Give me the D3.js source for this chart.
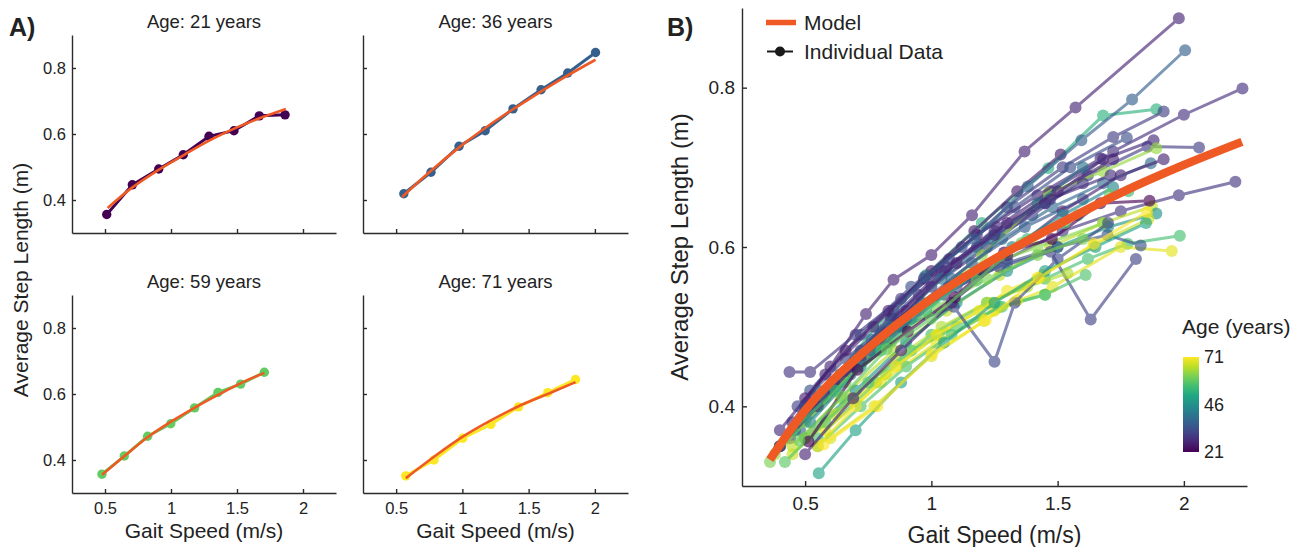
<!DOCTYPE html>
<html>
<head>
<meta charset="utf-8">
<script src="https://cdn.jsdelivr.net/npm/d3@7"></script>
<style>
  body { margin: 0; background: #fff; }
  svg { display: block; }
  text { font-family: "Liberation Sans", Arial, sans-serif; fill: #222; }
</style>
</head>
<body>
<svg id="chart" width="1307" height="547"></svg>
<script>
// ---- data ----
const ageMin = 21, ageMax = 71;
const xTicks = [0.5, 1, 1.5, 2];
const yTicks = [0.4, 0.6, 0.8];
const cbTicks = [21, 46, 71];

// panel A: four example participants
const panelAges = [21, 36, 59, 71];
const panelSpeeds = [
  [0.513, 0.707, 0.907, 1.093, 1.288, 1.477, 1.669, 1.864],
  [0.558, 0.763, 0.975, 1.172, 1.382, 1.594, 1.795, 2.005],
  [0.477, 0.646, 0.823, 0.998, 1.179, 1.356, 1.528, 1.707],
  [0.573, 0.786, 1.003, 1.215, 1.424, 1.644, 1.854]
];
const panelLengths = [
  [0.356, 0.446, 0.494, 0.537, 0.593, 0.610, 0.655, 0.658],
  [0.419, 0.484, 0.563, 0.610, 0.676, 0.734, 0.785, 0.847],
  [0.357, 0.412, 0.472, 0.510, 0.558, 0.605, 0.630, 0.666],
  [0.352, 0.400, 0.466, 0.508, 0.561, 0.604, 0.644]
];
const fitSpeeds = [
  [0.52, 0.7, 0.9, 1.1, 1.3, 1.5, 1.7, 1.87],
  [0.545, 0.75, 1.0, 1.25, 1.5, 1.75, 2.005],
  [0.477, 0.65, 0.82, 1.0, 1.18, 1.36, 1.53, 1.707],
  [0.573, 0.786, 1.0, 1.215, 1.424, 1.644, 1.854]
];
const fitLengths = [
  [0.376, 0.436, 0.49, 0.537, 0.582, 0.62, 0.652, 0.676],
  [0.409, 0.484, 0.567, 0.64, 0.705, 0.767, 0.825],
  [0.355, 0.413, 0.468, 0.516, 0.559, 0.598, 0.633, 0.664],
  [0.345, 0.41, 0.47, 0.52, 0.563, 0.6, 0.636]
];

// panel B: population model
const modelSpeeds = [0.36, 0.5, 0.75, 1.0, 1.25, 1.5, 1.75, 2.0, 2.23];
const modelLengths = [0.333, 0.395, 0.473, 0.535, 0.585, 0.628, 0.668, 0.703, 0.732];

// panel B: other participants (the four above are added too)
const subjAges = [26, 28, 53, 30, 30, 27, 63, 33, 38, 29, 66, 47, 56, 69, 31, 34, 67, 62,
  57, 65, 28, 27, 25, 58, 70, 68, 40, 32, 29, 35, 50, 61, 26, 26, 44, 55];
const subjSpeeds = [
  [0.45, 0.6, 0.741, 0.85, 1.0, 1.161, 1.369, 1.571, 1.98],
  [0.55, 0.78, 1.0, 1.22, 1.45, 1.72, 2.0, 2.232],
  [0.4, 0.58, 0.78, 0.98, 1.2, 1.463, 1.68, 1.891],
  [0.46, 0.65, 0.85, 1.07, 1.3, 1.52, 1.72, 1.92],
  [0.5, 0.72, 0.95, 1.18, 1.4, 1.62, 1.856, 2.06],
  [0.44, 0.63, 0.85, 1.05, 1.26, 1.47, 1.68, 1.88],
  [0.38, 0.55, 0.74, 0.95, 1.2, 1.463, 1.68, 1.891],
  [0.52, 0.72, 0.92, 1.12, 1.33, 1.55, 1.774],
  [0.48, 0.68, 0.88, 1.08, 1.28, 1.48, 1.68, 1.869],
  [0.6, 0.82, 1.05, 1.3, 1.52, 1.75, 1.98, 2.204],
  [0.45, 0.64, 0.85, 1.06, 1.27, 1.47, 1.68, 1.873],
  [0.5, 0.7, 0.9, 1.1, 1.3, 1.5, 1.7, 1.891],
  [0.55, 0.78, 1.0, 1.22, 1.45, 1.62, 1.777, 1.984],
  [0.58, 0.8, 1.02, 1.25, 1.48, 1.75, 1.952],
  [0.47, 0.66, 0.86, 1.07, 1.27, 1.472, 1.631, 1.81],
  [0.5, 0.7, 0.9, 1.1, 1.3, 1.5, 1.697, 1.829],
  [0.45, 0.62, 0.82, 1.03, 1.24, 1.44, 1.642, 1.86],
  [0.4, 0.58, 0.78, 0.98, 1.2, 1.42, 1.68],
  [0.55, 0.72, 0.9, 1.08, 1.27, 1.45, 1.611],
  [0.5, 0.68, 0.86, 1.04, 1.22, 1.38, 1.539],
  [0.45, 0.64, 0.84, 1.04, 1.25, 1.47, 1.71],
  [0.4, 0.58, 0.77, 0.97, 1.18, 1.42, 1.67],
  [0.5, 0.66, 0.83, 1.0, 1.17, 1.34, 1.512],
  [0.42, 0.58, 0.75, 0.92, 1.1, 1.28, 1.45],
  [0.55, 0.7, 0.86, 1.02, 1.19, 1.3, 1.419],
  [0.6, 0.774, 1.0, 1.208, 1.34],
  [0.45, 0.64, 0.84, 1.04, 1.24, 1.42, 1.6],
  [0.5, 0.68, 0.88, 1.089, 1.25, 1.33, 1.5, 1.7],
  [0.438, 0.52, 0.7, 0.88, 1.06, 1.25, 1.45, 1.6],
  [0.4, 0.57, 0.76, 0.96, 1.16, 1.37, 1.6],
  [0.554, 0.7, 0.88, 1.05, 1.25, 1.45, 1.65, 1.85],
  [0.361, 0.5, 0.66, 0.84, 1.02, 1.22, 1.42, 1.6],
  [0.4, 0.55, 0.72, 0.9, 1.1, 1.3, 1.5, 1.72],
  [0.5, 0.69, 0.88, 1.08, 1.3, 1.52, 1.75, 1.92],
  [0.52, 0.72, 0.92, 1.12, 1.32, 1.52, 1.72],
  [0.45, 0.62, 0.8, 0.98, 1.18, 1.38, 1.58, 1.78]
];
const subjLengths = [
  [0.38, 0.45, 0.516, 0.559, 0.59, 0.64, 0.72, 0.775, 0.887],
  [0.41, 0.48, 0.55, 0.6, 0.655, 0.72, 0.766, 0.799],
  [0.35, 0.42, 0.5, 0.565, 0.63, 0.699, 0.765, 0.773],
  [0.37, 0.44, 0.52, 0.585, 0.65, 0.7, 0.738, 0.77],
  [0.4, 0.47, 0.54, 0.6, 0.64, 0.69, 0.726, 0.725],
  [0.36, 0.43, 0.51, 0.57, 0.625, 0.67, 0.71, 0.734],
  [0.34, 0.4, 0.46, 0.52, 0.59, 0.668, 0.695, 0.724],
  [0.42, 0.49, 0.55, 0.6, 0.65, 0.7, 0.737],
  [0.37, 0.44, 0.5, 0.56, 0.61, 0.65, 0.68, 0.705],
  [0.42, 0.48, 0.54, 0.585, 0.62, 0.645, 0.665, 0.682],
  [0.35, 0.41, 0.47, 0.52, 0.565, 0.6, 0.63, 0.651],
  [0.36, 0.42, 0.48, 0.53, 0.57, 0.6, 0.625, 0.642],
  [0.36, 0.43, 0.49, 0.53, 0.56, 0.585, 0.604, 0.614],
  [0.37, 0.43, 0.48, 0.52, 0.55, 0.6, 0.595],
  [0.4, 0.46, 0.51, 0.55, 0.575, 0.594, 0.509, 0.585],
  [0.4, 0.46, 0.51, 0.55, 0.58, 0.6, 0.615, 0.602],
  [0.34, 0.39, 0.44, 0.49, 0.53, 0.565, 0.602, 0.635],
  [0.35, 0.41, 0.47, 0.53, 0.575, 0.6, 0.63],
  [0.35, 0.4, 0.45, 0.49, 0.525, 0.54, 0.565],
  [0.36, 0.41, 0.46, 0.5, 0.53, 0.55, 0.567],
  [0.37, 0.44, 0.51, 0.57, 0.62, 0.66, 0.69],
  [0.37, 0.44, 0.5, 0.56, 0.615, 0.665, 0.711],
  [0.41, 0.47, 0.52, 0.57, 0.62, 0.67, 0.716],
  [0.33, 0.38, 0.43, 0.47, 0.5, 0.525, 0.54],
  [0.35, 0.4, 0.45, 0.49, 0.52, 0.545, 0.561],
  [0.36, 0.4, 0.463, 0.507, 0.533],
  [0.37, 0.44, 0.5, 0.56, 0.61, 0.655, 0.7],
  [0.4, 0.45, 0.5, 0.525, 0.456, 0.53, 0.585, 0.63],
  [0.443, 0.443, 0.49, 0.535, 0.575, 0.615, 0.655, 0.68],
  [0.35, 0.41, 0.47, 0.53, 0.58, 0.625, 0.66],
  [0.316, 0.37, 0.43, 0.48, 0.53, 0.57, 0.6, 0.63],
  [0.33, 0.38, 0.43, 0.48, 0.525, 0.56, 0.59, 0.61],
  [0.35, 0.4, 0.46, 0.52, 0.58, 0.63, 0.67, 0.71],
  [0.34, 0.41, 0.47, 0.53, 0.59, 0.645, 0.69, 0.71],
  [0.38, 0.45, 0.51, 0.56, 0.6, 0.64, 0.675],
  [0.37, 0.42, 0.47, 0.52, 0.57, 0.61, 0.64, 0.67]
];

// ---- drawing ----
const svg = d3.select('#chart');
const orange = '#ef5a24';
const axisColor = '#2b2b2b';
const ageColor = a => d3.interpolateViridis((a - ageMin) / (ageMax - ageMin));
const zip = (xs, ys) => xs.map((v, i) => ({ x: v, y: ys[i] }));

function styleAxis(g, fontSize) {
  g.select('.domain').attr('stroke', axisColor).attr('stroke-width', 1.4);
  g.selectAll('.tick line').attr('stroke', axisColor).attr('stroke-width', 1.4);
  g.selectAll('.tick text')
    .attr('fill', '#222')
    .style('font-size', fontSize + 'px')
    .style('font-family', '"Liberation Sans", Arial, sans-serif');
}

// Panel A: 2x2 small multiples
const cells = [
  { left: 72, right: 336, top: 35, bottom: 233, xLab: false, yLab: true },
  { left: 363, right: 628, top: 35, bottom: 233, xLab: false, yLab: false },
  { left: 72, right: 336, top: 295, bottom: 493, xLab: true, yLab: true },
  { left: 363, right: 628, top: 295, bottom: 493, xLab: true, yLab: false }
];

cells.forEach((c, i) => {
  const x = d3.scaleLinear().domain([0.25, 2.25]).range([c.left, c.right]);
  const y = d3.scaleLinear().domain([0.3, 0.9]).range([c.bottom, c.top]);

  const xAxis = d3.axisBottom(x).tickValues(xTicks).tickSizeInner(-4).tickSizeOuter(0).tickPadding(9)
    .tickFormat(c.xLab ? d => String(d) : '');
  const yAxis = d3.axisLeft(y).tickValues(yTicks).tickSizeInner(-4).tickSizeOuter(0).tickPadding(6)
    .tickFormat(c.yLab ? d => String(d) : '');

  svg.append('g').attr('transform', `translate(0,${c.bottom})`).call(xAxis).call(g => styleAxis(g, 16.5));
  svg.append('g').attr('transform', `translate(${c.left},0)`).call(yAxis).call(g => styleAxis(g, 16.5));

  svg.append('text')
    .attr('x', (c.left + c.right) / 2).attr('y', c.top - 7)
    .attr('text-anchor', 'middle').style('font-size', '18.5px')
    .text(`Age: ${panelAges[i]} years`);

  const col = ageColor(panelAges[i]);
  const pts = zip(panelSpeeds[i], panelLengths[i]);
  const line = d3.line().x(d => x(d.x)).y(d => y(d.y));
  svg.append('path').datum(pts).attr('d', line)
    .attr('fill', 'none').attr('stroke', col).attr('stroke-width', 3);
  svg.append('g').selectAll('circle').data(pts).join('circle')
    .attr('cx', d => x(d.x)).attr('cy', d => y(d.y)).attr('r', 4.7).attr('fill', col);

  const fit = zip(fitSpeeds[i], fitLengths[i]);
  svg.append('path').datum(fit)
    .attr('d', d3.line().x(d => x(d.x)).y(d => y(d.y)).curve(d3.curveMonotoneX))
    .attr('fill', 'none').attr('stroke', orange).attr('stroke-width', 2.6);

  if (c.xLab) {
    svg.append('text')
      .attr('x', (c.left + c.right) / 2).attr('y', 538)
      .attr('text-anchor', 'middle').style('font-size', '21px')
      .text('Gait Speed (m/s)');
  }
});

svg.append('text')
  .attr('transform', 'translate(28,280) rotate(-90)')
  .attr('text-anchor', 'middle').style('font-size', '21px')
  .text('Average Step Length (m)');

svg.append('text').attr('x', 9).attr('y', 36)
  .style('font-size', '25px').style('font-weight', 'bold').text('A)');

// Panel B: all participants with the population model
const xB = d3.scaleLinear().domain([0.25, 2.25]).range([742, 1247]);
const yB = d3.scaleLinear().domain([0.3, 0.9]).range([486, 8]);

svg.append('g').attr('transform', 'translate(0,486)')
  .call(d3.axisBottom(xB).tickValues(xTicks).tickSizeInner(-5).tickSizeOuter(0).tickPadding(11).tickFormat(d => String(d)))
  .call(g => styleAxis(g, 19));
svg.append('g').attr('transform', 'translate(742,0)')
  .call(d3.axisLeft(yB).tickValues(yTicks).tickSizeInner(-5).tickSizeOuter(0).tickPadding(7).tickFormat(d => String(d)))
  .call(g => styleAxis(g, 19));

const allAges = subjAges.concat(panelAges);
const allSpeeds = subjSpeeds.concat(panelSpeeds);
const allLengths = subjLengths.concat(panelLengths);

const lineB = d3.line().x(d => xB(d.x)).y(d => yB(d.y));
const gData = svg.append('g');
allAges.forEach((age, i) => {
  const col = ageColor(age);
  const pts = zip(allSpeeds[i], allLengths[i]);
  const g = gData.append('g').attr('opacity', 0.64);
  g.append('path').datum(pts).attr('d', lineB)
    .attr('fill', 'none').attr('stroke', col).attr('stroke-width', 3);
  g.selectAll('circle').data(pts).join('circle')
    .attr('cx', d => xB(d.x)).attr('cy', d => yB(d.y)).attr('r', 6).attr('fill', col);
});

svg.append('path').datum(zip(modelSpeeds, modelLengths))
  .attr('d', d3.line().x(d => xB(d.x)).y(d => yB(d.y)).curve(d3.curveMonotoneX))
  .attr('fill', 'none').attr('stroke', orange).attr('stroke-width', 8.5);

svg.append('text')
  .attr('x', 994.5).attr('y', 543)
  .attr('text-anchor', 'middle').style('font-size', '23px')
  .text('Gait Speed (m/s)');
svg.append('text')
  .attr('transform', 'translate(688,247) rotate(-90)')
  .attr('text-anchor', 'middle').style('font-size', '24px')
  .text('Average Step Length (m)');
svg.append('text').attr('x', 667).attr('y', 36)
  .style('font-size', '25px').style('font-weight', 'bold').text('B)');

// legend
const leg = svg.append('g');
leg.append('line').attr('x1', 766).attr('x2', 796).attr('y1', 22.5).attr('y2', 22.5)
  .attr('stroke', orange).attr('stroke-width', 5.5);
leg.append('text').attr('x', 804).attr('y', 29.5).style('font-size', '21px').text('Model');
leg.append('line').attr('x1', 767).attr('x2', 793).attr('y1', 51.5).attr('y2', 51.5)
  .attr('stroke', '#1a1a1a').attr('stroke-width', 2);
leg.append('circle').attr('cx', 780).attr('cy', 51.5).attr('r', 5).attr('fill', '#1a1a1a');
leg.append('text').attr('x', 804).attr('y', 58.5).style('font-size', '21px').text('Individual Data');

// colorbar
const defs = svg.append('defs');
const grad = defs.append('linearGradient').attr('id', 'viridis')
  .attr('x1', 0).attr('y1', 1).attr('x2', 0).attr('y2', 0);
d3.range(0, 1.0001, 0.1).forEach(t => {
  grad.append('stop').attr('offset', t).attr('stop-color', d3.interpolateViridis(t));
});
const cbY = d3.scaleLinear().domain([ageMin, ageMax]).range([452, 357]);
svg.append('rect').attr('x', 1183).attr('y', cbY(ageMax)).attr('width', 16)
  .attr('height', cbY(ageMin) - cbY(ageMax)).attr('fill', 'url(#viridis)');
svg.append('g').selectAll('text').data(cbTicks).join('text')
  .attr('x', 1204).attr('y', d => cbY(d)).attr('dy', '0.36em')
  .style('font-size', '18px').text(d => d);
svg.append('text').attr('x', 1182).attr('y', 334)
  .style('font-size', '21px').text('Age (years)');
</script>
</body>
</html>
